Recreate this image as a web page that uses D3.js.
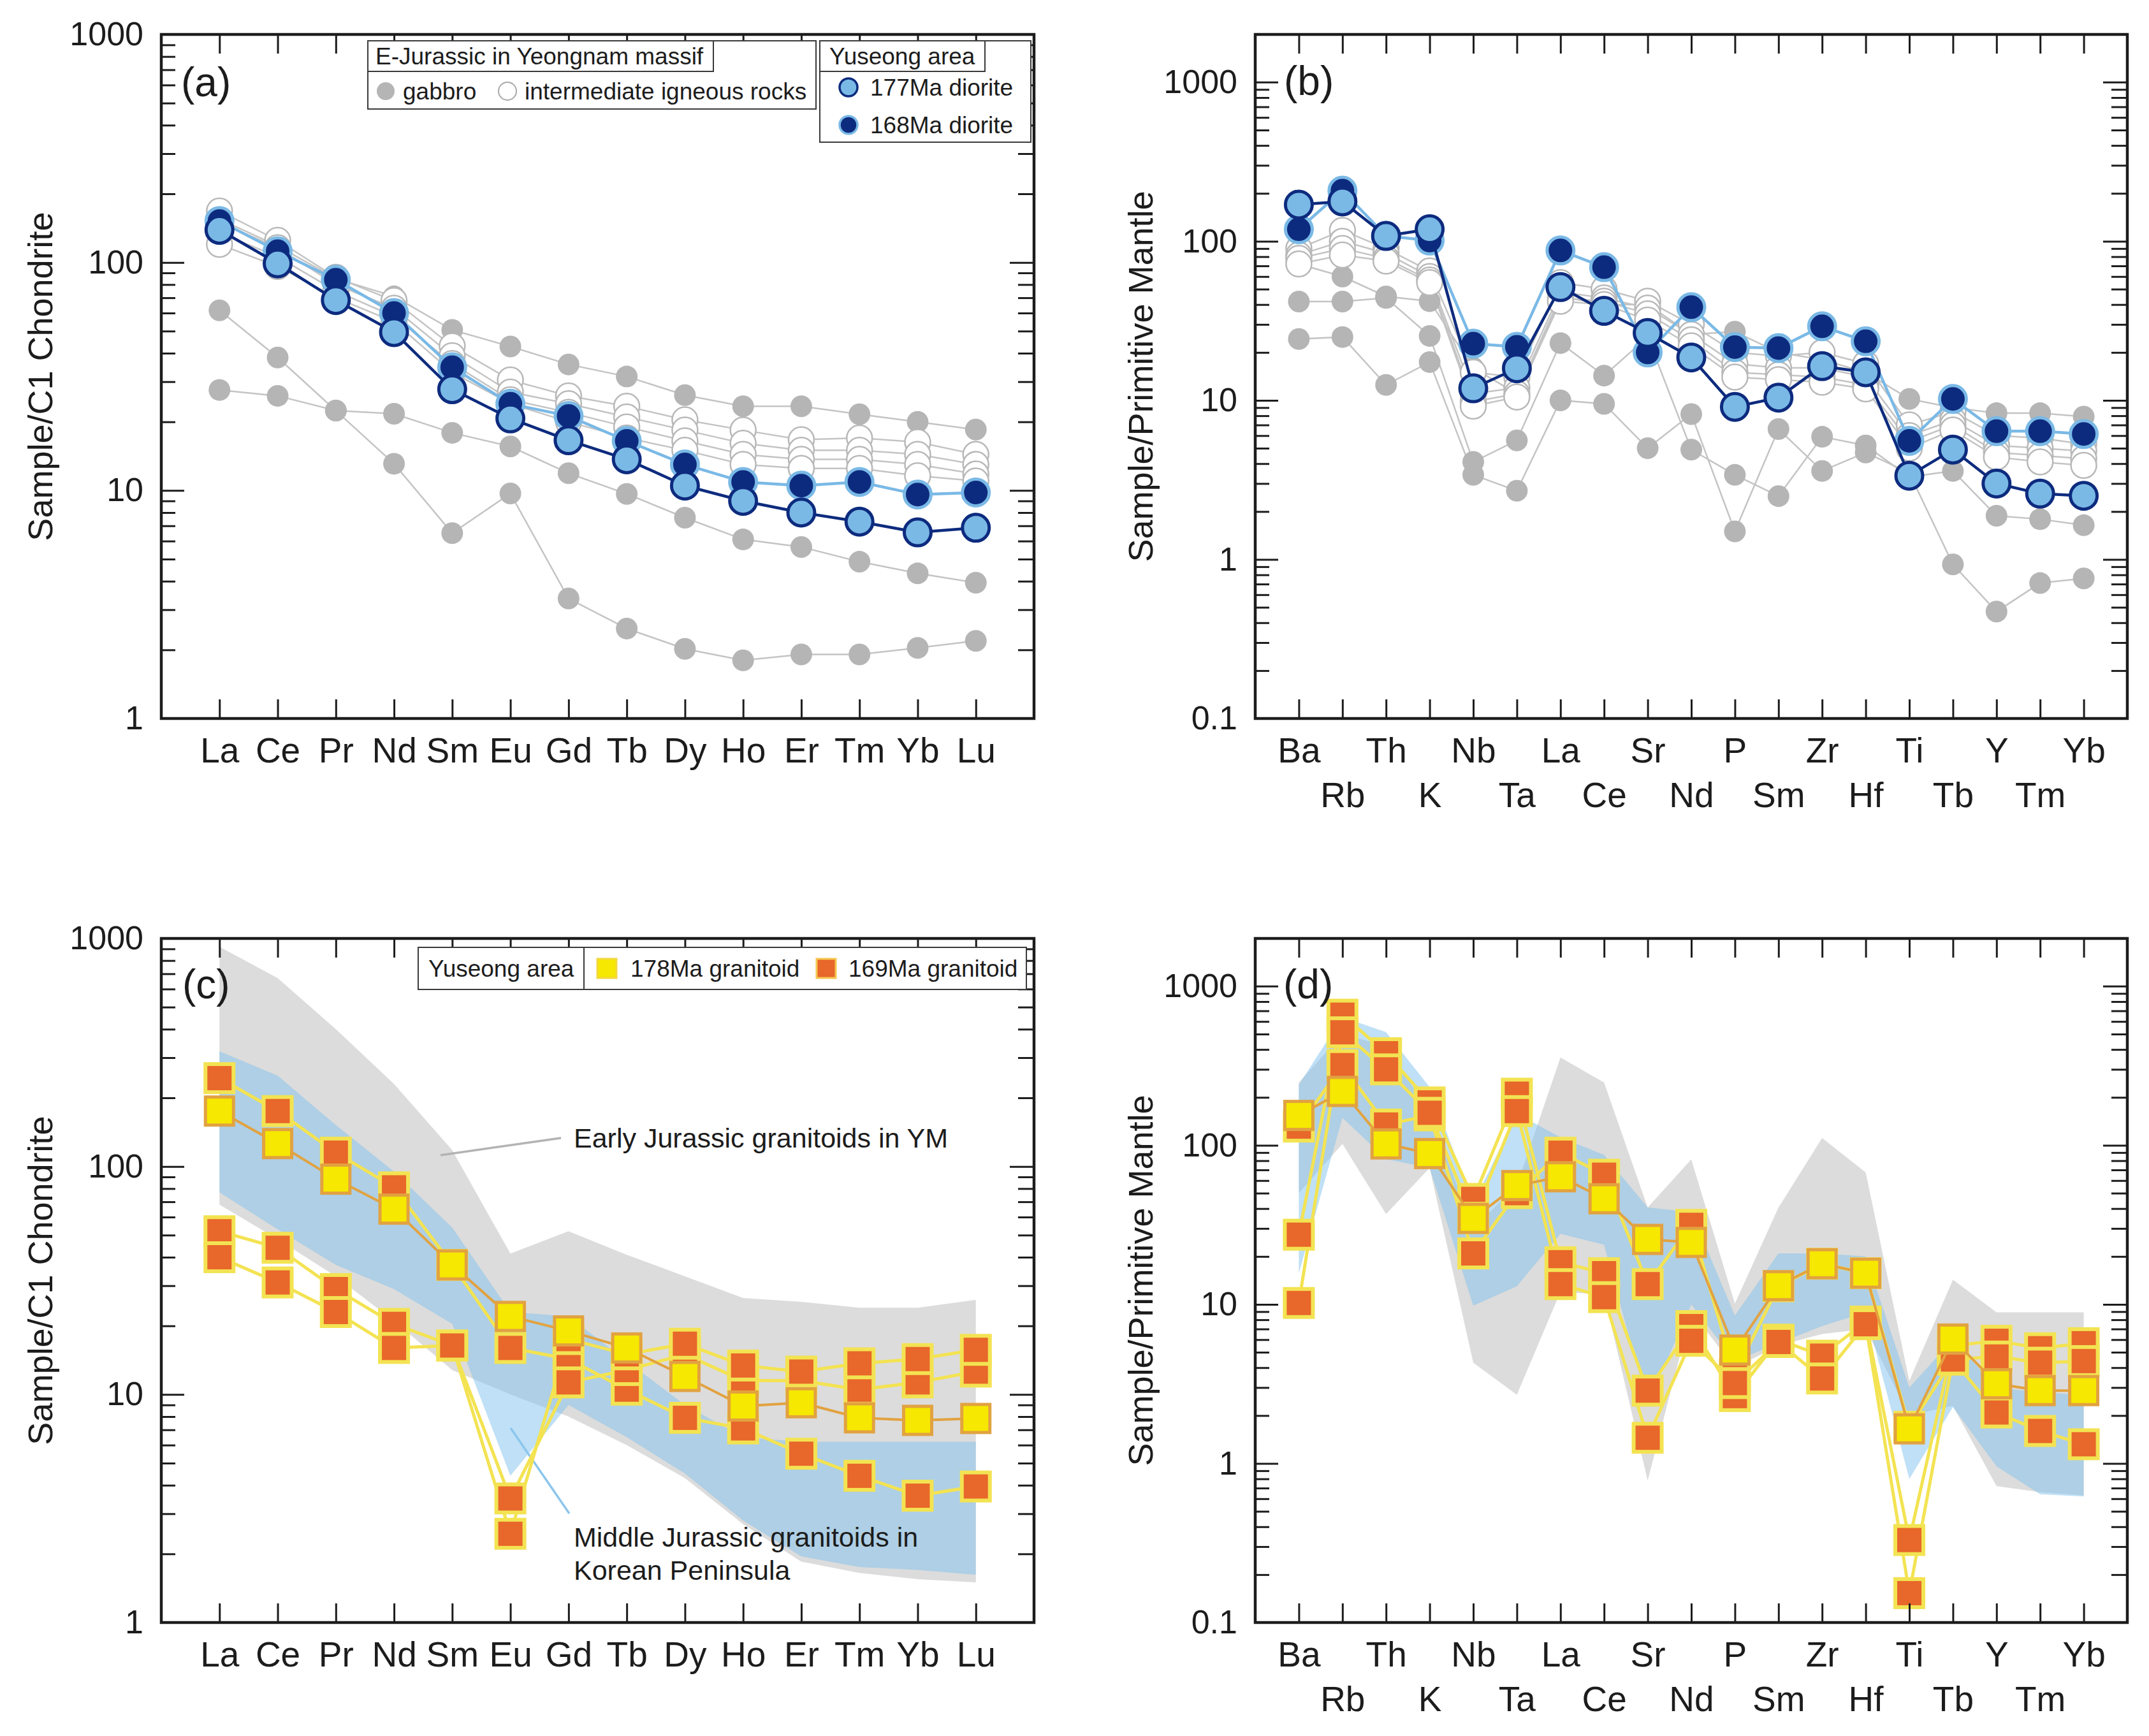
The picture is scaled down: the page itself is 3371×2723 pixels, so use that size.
<!DOCTYPE html>
<html>
<head>
<meta charset="utf-8">
<script src="https://cdn.jsdelivr.net/npm/d3@7"></script>
<style>
  body { margin: 0; background: #fff; }
  svg { display: block; background: #fff; }
</style>
</head>
<body>
<div class="chart"></div>
<script>
// DATA ------------------------------------

const reeElements = ['La', 'Ce', 'Pr', 'Nd', 'Sm', 'Eu', 'Gd', 'Tb', 'Dy', 'Ho', 'Er', 'Tm', 'Yb', 'Lu'];
const spiderElements = ['Ba', 'Rb', 'Th', 'K', 'Nb', 'Ta', 'La', 'Ce', 'Sr', 'Nd', 'P', 'Sm', 'Zr', 'Hf', 'Ti', 'Tb', 'Y', 'Tm', 'Yb'];
const reeTicks = [1, 10, 100, 1000];
const spiderTicks = [0.1, 1, 10, 100, 1000];

// (a) chondrite normalised REE
const aGabbro = [
    [155, 118, 85, 71, 50.6, 42.8, 35.7, 31.6, 26.2, 23.4, 23.4, 21.6, 20.0, 18.5],
    [61.7, 38.3, 22.4, 13.1, 6.5, 9.7, 3.36, 2.48, 2.02, 1.80, 1.91, 1.91, 2.04, 2.19],
    [27.6, 26.0, 22.4, 21.7, 17.9, 15.6, 11.9, 9.66, 7.6, 6.1, 5.65, 4.87, 4.33, 3.94]
];
const aIntermediate = [
    [168, 125, 86, 68, 43, 30.5, 26, 23.4, 20.4, 18.4, 16.7, 17, 16.3, 14.4],
    [150, 116, 80, 63, 39, 27, 24, 21, 18.4, 16.1, 15, 15, 14.4, 13],
    [135, 106, 75, 58, 36, 25, 22, 19, 16.5, 14.4, 13.7, 13.7, 13, 11.8],
    [120, 96, 70, 55, 33, 24, 20, 17, 15, 13, 12.5, 12.5, 11.6, 11]
];
const aDiorite168 = [152, 112, 84, 60, 34.7, 24, 21.2, 16.5, 13, 10.9, 10.5, 10.9, 9.6, 9.8];
const aDiorite177 = [139, 99, 68.4, 49.5, 27.8, 20.7, 16.6, 13.7, 10.5, 9.0, 8.0, 7.3, 6.55, 6.86];

// (b) primitive mantle normalised
const bGabbro = [
    [72, 60, 45, 42, 16, 11, 45, 40, 40, 26, 27, 20, 18, 15, 10.2, 9, 8.3, 8.3, 7.9],
    [24.3, 25, 12.5, 17.4, 3.4, 2.7, 10, 9.5, 5.0, 8.2, 1.5, 6.6, 3.6, 4.7, 3.5, 0.93, 0.47, 0.71, 0.76],
    [41.8, 41.8, 44, 25.4, 4.1, 5.6, 22.9, 14.3, 25, 4.9, 3.4, 2.5, 5.9, 5.2, 3.3, 3.6, 1.88, 1.79, 1.64]
];
const bIntermediate = [
    [90, 117, 90, 65, 15, 14, 55, 50, 42, 30, 20, 19, 20, 17, 7, 8.5, 6, 5.8, 5.3],
    [82, 100, 84, 60, 11, 12, 48, 44, 38, 26, 17, 16, 16, 14, 6, 7.5, 5.2, 5, 4.8],
    [78, 90, 78, 57, 9.8, 11, 44, 42, 35, 24, 15, 14.5, 14, 12.5, 5.5, 7, 4.7, 4.5, 4.3],
    [72, 82, 75, 55, 9.2, 10.5, 42, 40, 32, 22, 14, 13.5, 13, 11.8, 5, 6.5, 4.4, 4.1, 3.9]
];
const bDiorite168 = [119, 208, 108, 101, 22.7, 21.7, 87.5, 68.7, 20, 38.5, 21.6, 21.3, 29.2, 23.5, 5.56, 10.2, 6.4, 6.4, 6.14];
const bDiorite177 = [170, 178, 108, 119, 11.9, 15.9, 51.5, 36.5, 26.5, 18.6, 9.1, 10.4, 16.4, 15, 3.36, 4.9, 3.0, 2.59, 2.51];

// (c) chondrite normalised REE, granitoids
const cGranitoid178 = [
    [175, 126, 88, 65, 37, 22, 19, 16, 12, 8.9, 9.2, 7.9, 7.7, 7.85]
];
const cGranitoid169 = [
    [244, 175, 115, 81, 37, 16, 14.3, 10.5, 7.9, 7.1, 5.5, 4.4, 3.6, 3.95],
    [52, 44, 29, 20.4, 16.4, 3.5, 11.3, 12.8, 15, 11.5, 11.5, 10.5, 11.3, 12.6],
    [40, 31, 23, 16, 16.4, 2.45, 17.5, 15, 16.7, 13.4, 12.6, 13.7, 14.3, 15.7]
];
const cEarlyMax = [920, 670, 400, 230, 118, 41.5, 52, 41, 33, 26.5, 25.5, 24, 24, 26];
const cEarlyMin = [68, 48, 33, 21, 12.8, 10, 8, 6, 4.3, 2.7, 1.85, 1.65, 1.55, 1.5];
const cMiddleMax = [320, 250, 152, 95, 54, 23, 22, 14, 9, 6.5, 6.2, 6.2, 6.2, 6.2];
const cMiddleMin = [77, 53, 37, 29, 20.4, 4.4, 9, 6.5, 4.5, 2.8, 1.95, 1.75, 1.7, 1.62];

// (d) primitive mantle normalised, granitoids
const dGranitoid178 = [
    [154, 218, 102, 88.7, 34.7, 55.8, 63.4, 46.1, 25.6, 24.5, 5.16, 13.1, 18, 15.7, 1.65, 6.05, 3.17, 2.87, 2.87]
];
const dGranitoid169 = [
    [131, 319, 135, 154, 20.9, 50, 89.8, 65.3, 13.4, 31.6, 3.65, 13, 18, 15.7, 1.7, 4.5, 2.09, 1.6, 1.32],
    [27.4, 662, 379, 186, 46, 211, 18.4, 15.7, 2.87, 7.3, 2.65, 6.0, 4.76, 7.8, 0.33, 5.5, 5.9, 5.3, 5.7],
    [10.2, 513, 300, 160, 35, 164, 13.4, 11.1, 1.45, 5.9, 3.2, 5.8, 3.42, 7.5, 0.153, 4.5, 4.7, 4.3, 4.4]
];
const dEarlyMax = [248, 500, 420, 160, 30, 56, 356, 248, 40.6, 81.6, 10.1, 40.6, 111, 67.5, 3.3, 14.3, 8.9, 8.9, 8.9];
const dEarlyMin = [50, 102, 37, 72, 4.3, 2.7, 12, 11.5, 0.78, 9, 4, 5.5, 6.5, 7, 2.0, 2.3, 0.72, 0.66, 0.63];
const dMiddleMax = [240, 640, 514, 232, 43, 158, 112, 87, 40.6, 38, 8.5, 20.9, 20.9, 20, 3.0, 6, 3, 2.8, 2.7];
const dMiddleMin = [15.7, 149, 82, 72, 9.8, 13, 27.8, 23.7, 2.34, 10, 4.4, 5.7, 7.3, 8.9, 0.8, 2.26, 0.96, 0.64, 0.62];

// STYLES ----------------------------------
const FONT = '"Liberation Sans", Arial, Helvetica, sans-serif';
const INK = '#1c1c1c';
const navy = '#0d2b7e';
const lightBlue = '#7ab9e6';
const orange = '#e8672a';
const yellow = '#f6e800';
const paleYellow = '#f3e352';
const tan = '#e2a240';

const gabbroStyle = { shape: 'circle', r: 17, fill: '#b5b5b5', stroke: 'none', sw: 0, line: '#c4c4c4', lw: 2.5 };
const interStyle = { shape: 'circle', r: 20, fill: '#fff', stroke: '#b8b8b8', sw: 2.5, line: '#c4c4c4', lw: 2.5 };
const d168Style = { shape: 'circle', r: 21, fill: navy, stroke: lightBlue, sw: 5, line: lightBlue, lw: 4.5 };
const d177Style = { shape: 'circle', r: 21, fill: lightBlue, stroke: navy, sw: 5, line: navy, lw: 4.5 };
const g169Style = { shape: 'square', r: 22, fill: orange, stroke: paleYellow, sw: 6, line: paleYellow, lw: 5 };
const g178Style = { shape: 'square', r: 22, fill: yellow, stroke: tan, sw: 5, line: tan, lw: 4 };

// CHART INIT ------------------------------
const svg = d3.select('.chart')
    .append('svg')
    .attr('width', 3371)
    .attr('height', 2723)
    .attr('font-family', FONT);

const isMajor = v => Math.abs(Math.log10(v) - Math.round(Math.log10(v))) < 1e-6;

function drawMarkers(g, x, y, elements, data, st) {
    if (st.shape === 'circle') {
        g.selectAll(null)
            .data(data)
            .enter()
            .append('circle')
            .attr('cx', (d, i) => x(elements[i]))
            .attr('cy', d => y(d))
            .attr('r', st.r)
            .attr('fill', st.fill)
            .attr('stroke', st.stroke)
            .attr('stroke-width', st.sw);
    } else {
        g.selectAll(null)
            .data(data)
            .enter()
            .append('rect')
            .attr('x', (d, i) => x(elements[i]) - st.r)
            .attr('y', d => y(d) - st.r)
            .attr('width', st.r * 2)
            .attr('height', st.r * 2)
            .attr('fill', st.fill)
            .attr('stroke', st.stroke)
            .attr('stroke-width', st.sw);
    }
}

function drawPanel(p) {
    const g = svg.append('g')
        .attr('transform', `translate(${p.left},${p.top})`);

    const x = d3.scalePoint()
        .domain(p.elements)
        .range([0, p.width])
        .padding(1);

    const y = d3.scaleLog()
        .domain(p.domain)
        .range([p.height, 0]);

    const line = d3.line()
        .x((d, i) => x(p.elements[i]))
        .y(d => y(d));

    // compositional fields
    p.fields.forEach(f => {
        const area = d3.area()
            .x((d, i) => x(p.elements[i]))
            .y0(d => y(d[0]))
            .y1(d => y(d[1]));
        g.append('path')
            .datum(d3.zip(f.min, f.max))
            .attr('d', area)
            .attr('fill', f.fill)
            .attr('fill-opacity', f.opacity);
    });

    // annotation layer sits above the fields, below the samples
    const notes = g.append('g');

    // background samples: all lines, then all markers
    p.background.forEach(s => s.data.forEach(d => {
        g.append('path').datum(d).attr('d', line)
            .attr('fill', 'none').attr('stroke', s.style.line).attr('stroke-width', s.style.lw);
    }));
    p.background.forEach(s => s.data.forEach(d => drawMarkers(g, x, y, p.elements, d, s.style)));

    // foreground samples, one group after the other
    p.foreground.forEach(s => {
        s.data.forEach(d => {
            g.append('path').datum(d).attr('d', line)
                .attr('fill', 'none').attr('stroke', s.style.line)
                .attr('stroke-width', s.style.lw).attr('stroke-linejoin', 'round');
        });
        s.data.forEach(d => drawMarkers(g, x, y, p.elements, d, s.style));
    });

    // axes
    const minor = y.ticks().filter(v => !isMajor(v));
    const fmt = d => d < 1 ? String(d) : d3.format('d')(d);

    const styleAxis = (sel, size) => {
        sel.select('.domain').remove();
        sel.selectAll('.tick line').attr('stroke', INK).attr('stroke-width', 3);
        sel.attr('font-size', size).attr('font-family', FONT);
        sel.selectAll('.tick text').attr('fill', INK);
    };

    g.append('g')
        .call(d3.axisLeft(y).tickValues(p.ticks).tickSize(-36).tickPadding(28).tickFormat(fmt))
        .call(s => styleAxis(s, 52));
    g.append('g')
        .call(d3.axisLeft(y).tickValues(minor).tickSize(-22).tickFormat(''))
        .call(s => styleAxis(s, 52));
    g.append('g')
        .attr('transform', `translate(${p.width},0)`)
        .call(d3.axisRight(y).tickValues(p.ticks).tickSize(-38).tickFormat(''))
        .call(s => styleAxis(s, 52));
    g.append('g')
        .attr('transform', `translate(${p.width},0)`)
        .call(d3.axisRight(y).tickValues(minor).tickSize(-25).tickFormat(''))
        .call(s => styleAxis(s, 52));
    g.append('g')
        .call(d3.axisTop(x).tickSize(-30).tickFormat(''))
        .call(s => styleAxis(s, 55));

    const xAxis = g.append('g')
        .attr('transform', `translate(0,${p.height})`)
        .call(d3.axisBottom(x).tickSize(-30).tickPadding(30))
        .call(s => styleAxis(s, 55));
    if (p.twoRows) {
        xAxis.selectAll('.tick text').attr('dy', (d, i) => i % 2 ? '1.98em' : '0.71em');
    }

    // frame
    g.append('rect')
        .attr('width', p.width)
        .attr('height', p.height)
        .attr('fill', 'none')
        .attr('stroke', INK)
        .attr('stroke-width', 4.5);

    // axis title and panel label
    g.append('text')
        .attr('transform', `translate(${p.titleX},${p.height / 2}) rotate(-90)`)
        .attr('text-anchor', 'middle')
        .attr('dy', '0.35em')
        .attr('font-size', 54)
        .attr('fill', INK)
        .text(p.title);

    g.append('text')
        .attr('x', p.labelX)
        .attr('y', p.labelY)
        .attr('font-size', 64)
        .attr('fill', INK)
        .text(p.label);

    return notes;
}

const fieldGrey = '#dcdcdc';
const fieldBlue = '#7fc2ee';

// PANELS ----------------------------------
drawPanel({
    left: 253, top: 54, width: 1369, height: 1073,
    elements: reeElements, domain: [1, 1000], ticks: reeTicks,
    fields: [],
    background: [{ data: aGabbro, style: gabbroStyle }, { data: aIntermediate, style: interStyle }],
    foreground: [{ data: [aDiorite168], style: d168Style }, { data: [aDiorite177], style: d177Style }],
    title: 'Sample/C1 Chondrite', titleX: -190, label: '(a)', labelX: 31, labelY: 97
});

drawPanel({
    left: 1969, top: 54, width: 1368, height: 1073,
    elements: spiderElements, domain: [0.1, Math.pow(10, 3.3)], ticks: spiderTicks, twoRows: true,
    fields: [],
    background: [{ data: bGabbro, style: gabbroStyle }, { data: bIntermediate, style: interStyle }],
    foreground: [{ data: [bDiorite168], style: d168Style }, { data: [bDiorite177], style: d177Style }],
    title: 'Sample/Primitive Mantle', titleX: -180, label: '(b)', labelX: 45, labelY: 95
});

const nc = drawPanel({
    left: 253, top: 1472, width: 1369, height: 1073,
    elements: reeElements, domain: [1, 1000], ticks: reeTicks,
    fields: [
        { min: cEarlyMin, max: cEarlyMax, fill: fieldGrey, opacity: 1 },
        { min: cMiddleMin, max: cMiddleMax, fill: fieldBlue, opacity: 0.5 }
    ],
    background: [],
    foreground: [{ data: cGranitoid169, style: g169Style }, { data: cGranitoid178, style: g178Style }],
    title: 'Sample/C1 Chondrite', titleX: -190, label: '(c)', labelX: 33, labelY: 94
});

drawPanel({
    left: 1969, top: 1472, width: 1368, height: 1073,
    elements: spiderElements, domain: [0.1, Math.pow(10, 3.3)], ticks: spiderTicks, twoRows: true,
    fields: [
        { min: dEarlyMin, max: dEarlyMax, fill: fieldGrey, opacity: 1 },
        { min: dMiddleMin, max: dMiddleMax, fill: fieldBlue, opacity: 0.5 }
    ],
    background: [],
    foreground: [{ data: dGranitoid169, style: g169Style }, { data: dGranitoid178, style: g178Style }],
    title: 'Sample/Primitive Mantle', titleX: -180, label: '(d)', labelX: 44, labelY: 94
});

// ANNOTATIONS (c) -------------------------
nc.append('line')
    .attr('x1', 438).attr('y1', 340).attr('x2', 627).attr('y2', 313)
    .attr('stroke', '#b3b3b3').attr('stroke-width', 3.5);
nc.append('text')
    .attr('x', 647).attr('y', 328)
    .attr('font-size', 43).attr('fill', INK)
    .text('Early Jurassic granitoids in YM');

nc.append('line')
    .attr('x1', 548).attr('y1', 768).attr('x2', 640).attr('y2', 902)
    .attr('stroke', '#8cc6ec').attr('stroke-width', 3.5);
nc.append('text')
    .attr('x', 647).attr('y', 954)
    .attr('font-size', 43).attr('fill', INK)
    .text('Middle Jurassic granitoids in');
nc.append('text')
    .attr('x', 647).attr('y', 1006)
    .attr('font-size', 43).attr('fill', INK)
    .text('Korean Peninsula');

// LEGENDS ---------------------------------
const legend = svg.append('g').attr('font-size', 37).attr('fill', INK);
const boxStroke = '#3a3a3a';

// (a) E-Jurassic box
legend.append('rect').attr('x', 577).attr('y', 64).attr('width', 703).attr('height', 107)
    .attr('fill', '#fff').attr('stroke', boxStroke).attr('stroke-width', 2);
legend.append('rect').attr('x', 577).attr('y', 64).attr('width', 542).attr('height', 48)
    .attr('fill', '#fff').attr('stroke', boxStroke).attr('stroke-width', 2);
legend.append('text').attr('x', 589).attr('y', 101).text('E-Jurassic in Yeongnam massif');
legend.append('circle').attr('cx', 605).attr('cy', 143).attr('r', 14).attr('fill', gabbroStyle.fill);
legend.append('text').attr('x', 632).attr('y', 156).text('gabbro');
legend.append('circle').attr('cx', 796).attr('cy', 143).attr('r', 14)
    .attr('fill', '#fff').attr('stroke', '#a8a8a8').attr('stroke-width', 2);
legend.append('text').attr('x', 823).attr('y', 156).text('intermediate igneous rocks');

// (a) Yuseong box
legend.append('rect').attr('x', 1286).attr('y', 64).attr('width', 331).attr('height', 159)
    .attr('fill', '#fff').attr('stroke', boxStroke).attr('stroke-width', 2);
legend.append('rect').attr('x', 1286).attr('y', 64).attr('width', 259).attr('height', 48)
    .attr('fill', '#fff').attr('stroke', boxStroke).attr('stroke-width', 2);
legend.append('text').attr('x', 1301).attr('y', 101).text('Yuseong area');
legend.append('circle').attr('cx', 1331).attr('cy', 137).attr('r', 14)
    .attr('fill', lightBlue).attr('stroke', navy).attr('stroke-width', 3.5);
legend.append('text').attr('x', 1365).attr('y', 150).text('177Ma diorite');
legend.append('circle').attr('cx', 1331).attr('cy', 196).attr('r', 14)
    .attr('fill', navy).attr('stroke', lightBlue).attr('stroke-width', 3.5);
legend.append('text').attr('x', 1365).attr('y', 209).text('168Ma diorite');

// (c) Yuseong box
legend.append('rect').attr('x', 656).attr('y', 1486).attr('width', 954).attr('height', 66)
    .attr('fill', '#fff').attr('stroke', boxStroke).attr('stroke-width', 2);
legend.append('line').attr('x1', 916).attr('y1', 1486).attr('x2', 916).attr('y2', 1552)
    .attr('stroke', boxStroke).attr('stroke-width', 2);
legend.append('text').attr('x', 672).attr('y', 1532).text('Yuseong area');
legend.append('rect').attr('x', 937).attr('y', 1504).attr('width', 30).attr('height', 30)
    .attr('fill', yellow).attr('stroke', '#f2d840').attr('stroke-width', 3);
legend.append('text').attr('x', 989).attr('y', 1532).text('178Ma granitoid');
legend.append('rect').attr('x', 1281).attr('y', 1504).attr('width', 30).attr('height', 30)
    .attr('fill', orange).attr('stroke', '#f6c850').attr('stroke-width', 3);
legend.append('text').attr('x', 1331).attr('y', 1532).text('169Ma granitoid');
</script>
</body>
</html>
